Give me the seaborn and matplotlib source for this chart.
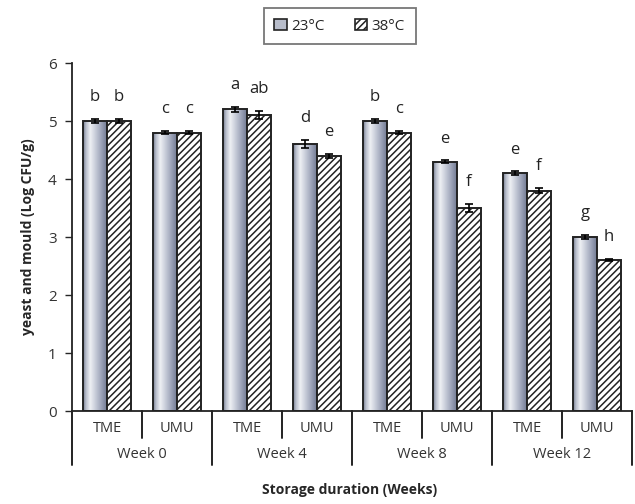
import numpy as np
import pandas as pd
import matplotlib
matplotlib.use("Agg")
import matplotlib.pyplot as plt
import matplotlib.transforms as mtransforms
from matplotlib.colors import LinearSegmentedColormap
from matplotlib.patches import Patch
import seaborn as sns

# ---- data ----
weeks = ["Week 0", "Week 4", "Week 8", "Week 12"]
varieties = ["TME", "UMU"]
temps = ["23°C", "38°C"]
vals_23 = [5.0, 4.8, 5.2, 4.6, 5.0, 4.3, 4.1, 3.0]
vals_38 = [5.0, 4.8, 5.1, 4.4, 4.8, 3.5, 3.8, 2.6]
err_23 = [0.03, 0.03, 0.04, 0.07, 0.04, 0.02, 0.03, 0.03]
err_38 = [0.03, 0.03, 0.07, 0.03, 0.03, 0.07, 0.04, 0.02]
letters_23 = ["b", "c", "a", "d", "b", "e", "e", "g"]
letters_38 = ["b", "c", "ab", "e", "c", "f", "f", "h"]

cats = [f"{w}|{v}" for w in weeks for v in varieties]
df = pd.DataFrame({
    "cat": cats * 2,
    "temp": [temps[0]] * len(cats) + [temps[1]] * len(cats),
    "value": vals_23 + vals_38,
})

sns.set_style("white")
plt.rcParams["font.family"] = ["Open Sans", "DejaVu Sans"]
plt.rcParams["hatch.linewidth"] = 1.1

fig = plt.figure(figsize=(6.35, 5.04), dpi=100)
ax = fig.add_axes([0.1134, 0.1845, 0.8819, 0.6905])

sns.barplot(data=df, x="cat", y="value", hue="temp", order=cats, hue_order=temps,
            palette=["white", "white"], edgecolor="#222222", linewidth=1.4,
            width=0.68, errorbar=None, legend=False, ax=ax)

cmap = LinearSegmentedColormap.from_list("metal", [
    (0.0, "#767d90"), (0.12, "#b8bdcb"), (0.3, "#eef0f4"), (0.45, "#d4d8e2"),
    (0.75, "#a0a7bb"), (1.0, "#747c94")])
grad = np.linspace(0, 1, 64).reshape(1, -1)

c23, c38 = ax.containers[0], ax.containers[1]
for p in c23:
    x0, w, h = p.get_x(), p.get_width(), p.get_height()
    im = ax.imshow(grad, cmap=cmap, extent=[x0, x0 + w, 0, h], aspect="auto",
                   origin="lower", zorder=0.9, interpolation="bilinear")
    im.set_clip_path(p)
    p.set_facecolor("none")
for p in c38:
    p.set_hatch("/////")

for cont, errs, labs in [(c23, err_23, letters_23), (c38, err_38, letters_38)]:
    xs = [p.get_x() + p.get_width() / 2 for p in cont]
    hs = [p.get_height() for p in cont]
    ax.errorbar(xs, hs, yerr=errs, fmt="none", ecolor="black", elinewidth=1.2,
                capsize=3, capthick=1.2, zorder=3)
    for x, h, e, t in zip(xs, hs, errs, labs):
        ax.text(x, h + e + 0.24, t, ha="center", va="bottom", fontsize=12, color="#222222")

ax.set_xlim(-0.5, len(cats) - 0.5)
ax.set_ylim(0, 6)
ax.set_yticks(range(0, 7))
ax.tick_params(axis="y", direction="out", length=5, width=1, labelsize=11, pad=6,
               left=True, labelcolor="#333333")
ax.tick_params(axis="x", bottom=False, labelbottom=False)
ax.set_xlabel("")
ax.set_ylabel("yeast and mould (Log CFU/g)", fontsize=10, fontweight="bold", labelpad=9)
for s in ["top", "right"]:
    ax.spines[s].set_visible(False)
for s in ["left", "bottom"]:
    ax.spines[s].set_color("#222222")
    ax.spines[s].set_linewidth(1.3)

trans = mtransforms.blended_transform_factory(ax.transData, ax.transAxes)
for i, c in enumerate(cats):
    w, v = c.split("|")
    ax.text(i, -0.049, v, transform=trans, ha="center", va="center", fontsize=10.5, color="#333333")
for j, w in enumerate(weeks):
    ax.text(2 * j + 0.5, -0.126, w, transform=trans, ha="center", va="center", fontsize=10.5, color="#333333")
for k in range(len(cats) + 1):
    ylow = -0.155 if k % 2 == 0 else -0.078
    ax.plot([k - 0.5, k - 0.5], [0, ylow], transform=trans, color="#222222", lw=1.4, clip_on=False)

fig.text(0.55, 0.028, "Storage duration (Weeks)", ha="center", va="center",
         fontsize=10, fontweight="bold")

handles = [Patch(facecolor="#b8bdcb", edgecolor="#222222", lw=1.2),
           Patch(facecolor="white", edgecolor="#222222", hatch="/////", lw=1.2)]
leg = fig.legend(handles, temps, loc="center", bbox_to_anchor=(0.535, 0.948), ncol=2,
                 frameon=True, fancybox=False, fontsize=11, handlelength=0.8,
                 handleheight=0.8, handletextpad=0.3, columnspacing=2.0,
                 borderpad=0.7, borderaxespad=0)
leg.get_frame().set_edgecolor("#555555")
leg.get_frame().set_linewidth(1.3)

fig.savefig("out.png", dpi=100, facecolor="white")
